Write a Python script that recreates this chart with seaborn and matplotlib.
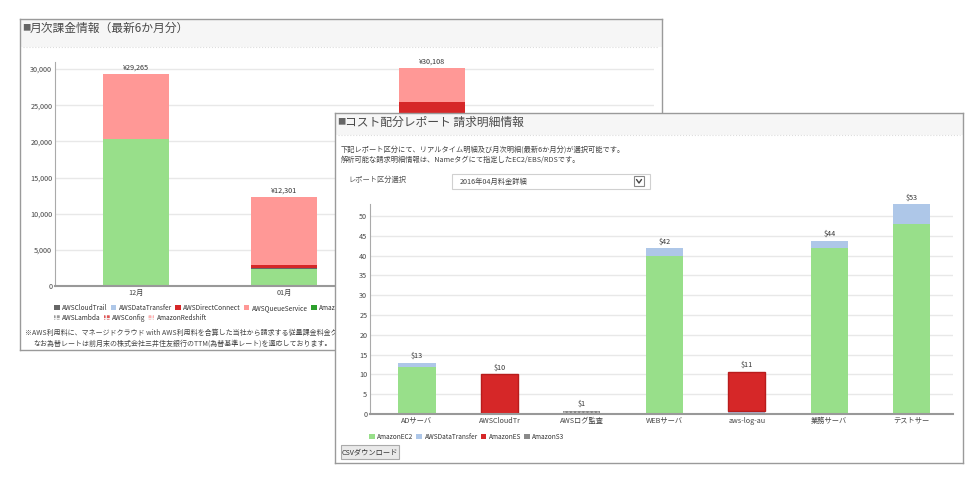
import numpy as np
import matplotlib
matplotlib.use("Agg")
import matplotlib.pyplot as plt
import seaborn as sns
from matplotlib.patches import Patch, Rectangle
from matplotlib.ticker import FuncFormatter

# 月次課金情報（左パネル）
months = ["12月", "01月", "02月"]
m_ec2 = [20300, 2400, 20500]
m_trail = [0, 100, 0]
m_direct = [0, 400, 4980]
m_queue = [8965, 9401, 4628]

# 左の凡例
leg1_names = ["AWSCloudTrail", "AWSDataTransfer", "AWSDirectConnect", "AWSQueueService",
              "AmazonCloudWatch", "AmazonEC2"]
leg1_colors = ["#666666", "#aec7e8", "#d62728", "#ff9896", "#2ca02c", "#98df8a"]
leg2_names = ["AWSLambda", "AWSConfig", "AmazonRedshift"]
leg2_colors = ["#9a9a9a", "#e05555", "#ffb0b0"]

# コスト配分レポート（右パネル）
servers = ["ADサーバ", "AWSCloudTr", "AWSログ監査", "WEBサーバ", "aws-log-au", "業務サーバ", "テストサー"]
ec2 = [11.8, 0, 0, 39.9, 0, 41.8, 48.0]
transfer = [1.2, 0, 0, 2.0, 0.8, 2.0, 5.0]
es = [0, 10.0, 0, 0, 9.9, 0, 0]
s3 = [0, 0, 0.8, 0, 0, 0, 0]

sns.set_style("white")
plt.rcParams["font.family"] = ["Noto Sans CJK JP", "DejaVu Sans"]

W, H = 980, 480
fig = plt.figure(figsize=(W / 100, H / 100), dpi=100)
fig.patch.set_facecolor("white")


def px_rect(x0, y0, x1, y1):
    return [x0 / W, 1 - y1 / H, (x1 - x0) / W, (y1 - y0) / H]


def panel(x0, y0, x1, y1, z, head, title):
    a = fig.add_axes(px_rect(x0, y0, x1, y1), zorder=z)
    a.set_xlim(x0, x1)
    a.set_ylim(y1, y0)
    a.set_xticks([])
    a.set_yticks([])
    a.set_facecolor("white")
    for s in a.spines.values():
        s.set_color("#9a9a9a")
        s.set_linewidth(1)
    a.add_patch(Rectangle((x0, y0), x1 - x0, head, color="#f6f6f6", lw=0))
    a.plot([x0 + 3, x1 - 3], [y0 + head, y0 + head], ls=":", color="#dddddd", lw=0.8)
    # タイトル（小さい灰色の四角＋文字）
    a.text(x0 + 2, y0 + 9, "■", fontsize=6, color="#666666", va="center")
    a.text(x0 + 10, y0 + 9, title, fontsize=8.5, color="#4a4a4a", va="center")
    return a


def stack(ax, cats, layers, width):
    base = np.zeros(len(cats))
    for vals, col, extra in layers:
        kw = {"linewidth": 0}
        kw.update(extra)
        sns.barplot(x=cats, y=vals, order=cats, color=col, saturation=1, width=width,
                    bottom=base, ax=ax, **kw)
        for p, v in zip(ax.containers[-1], vals):
            if v == 0:
                p.set_visible(False)
        base = base + np.array(vals)
    return base


lg_kw = dict(frameon=False, fontsize=4.7, handlelength=0.9, handleheight=0.9,
             handletextpad=0.35, columnspacing=0.45, borderpad=0, borderaxespad=0,
             loc="center left", bbox_transform=fig.transFigure, labelcolor="#333333")

# ---- 左パネル ----
pl = panel(20, 19, 662, 350, 0, 28, "月次課金情報（最新6か月分）")
pl.text(25, 333, "※AWS利用料に、マネージドクラウド with AWS利用料を合算した当社から請求する従量課金料金グラフとなります。",
        fontsize=5.0, color="#444444", va="center", clip_on=True)
pl.text(33, 344, "なお為替レートは前月末の株式会社三井住友銀行のTTM(為替基準レート)を適応しております。",
        fontsize=5.0, color="#444444", va="center", clip_on=True)

ax_l = fig.add_axes(px_rect(55, 62, 654, 286), zorder=1)
tot_l = stack(ax_l, months, [(m_ec2, "#98df8a", {}), (m_trail, "#666666", {}),
                             (m_direct, "#d62728", {}), (m_queue, "#ff9896", {})], 0.446)
for i, t in enumerate(tot_l):
    ax_l.annotate(f"¥{t:,.0f}", (i, t), xytext=(0, 2), textcoords="offset points",
                  ha="center", va="bottom", fontsize=5.2, color="#333333")
ax_l.set_xlim(-0.547, 3.5)
ax_l.set_ylim(0, 30970)
ax_l.set_yticks(range(0, 30001, 5000))
ax_l.yaxis.set_major_formatter(FuncFormatter(lambda v, p: f"{v:,.0f}"))
ax_l.grid(axis="y", color="#e8e8e8", lw=1)
ax_l.set_axisbelow(True)
ax_l.tick_params(labelsize=5.2, colors="#444444", length=0, pad=2)
for s in ["top", "right"]:
    ax_l.spines[s].set_visible(False)
ax_l.spines["left"].set_color("#aaaaaa")
ax_l.spines["bottom"].set_color("#999999")
ax_l.spines["bottom"].set_linewidth(1.5)
ax_l.set_xlabel("")
ax_l.set_ylabel("")

h1 = [Patch(facecolor=c, edgecolor="none") for c in leg1_colors]
h2 = [Patch(facecolor=c, edgecolor="#f4f4f4", hatch="++++", lw=0) for c in leg2_colors]
lg1 = ax_l.legend(h1, leg1_names, ncol=len(h1), bbox_to_anchor=(54 / W, 1 - 308 / H), **lg_kw)
ax_l.add_artist(lg1)
ax_l.legend(h2, leg2_names, ncol=len(h2), bbox_to_anchor=(54 / W, 1 - 318 / H), **lg_kw)

# ---- 右パネル ----
pr = panel(335, 113, 963, 463, 2, 22, "コスト配分レポート 請求明細情報")
pr.text(341, 150, "下記レポート区分にて、リアルタイム明細及び月次明細(最新6か月分)が選択可能です。",
        fontsize=5.2, color="#444444", va="center")
pr.text(341, 160, "解析可能な請求明細情報は、Nameタグにて指定したEC2/EBS/RDSです。",
        fontsize=5.2, color="#444444", va="center")
pr.text(348, 180, "レポート区分選択", fontsize=5.2, color="#555555", va="center")
pr.add_patch(Rectangle((452, 174), 198, 15, facecolor="white", edgecolor="#d0d0d0", lw=0.8))
pr.text(460, 181.5, "2016年04月料金詳細", fontsize=5.2, color="#444444", va="center")
pr.add_patch(Rectangle((634, 176.5), 10, 10, facecolor="white", edgecolor="#888888", lw=0.8))
pr.plot([636.5, 639, 641.5], [179.5, 183, 179.5], color="#444444", lw=1)
pr.add_patch(Rectangle((341, 445), 58, 14, facecolor="#e9e9e9", edgecolor="#aaaaaa", lw=0.8))
pr.text(370, 452, "CSVダウンロード", fontsize=5.2, color="#333333", va="center", ha="center")

ax_r = fig.add_axes(px_rect(370, 204, 953, 414), zorder=3)
tot_r = stack(ax_r, servers, [(ec2, "#98df8a", {}),
                              (transfer, "#aec7e8", {}),
                              (es, "#d62728", {"edgecolor": "#b81c1c", "linewidth": 1}),
                              (s3, "#8a8a8a", {"edgecolor": "#c8c8c8", "hatch": "...."})],
                0.45)
for i, t in enumerate(tot_r):
    ax_r.annotate(f"${t:.0f}", (i, t), xytext=(0, 2), textcoords="offset points",
                  ha="center", va="bottom", fontsize=5.2, color="#333333")
ax_r.set_xlim(-0.57, 6.5)
ax_r.set_ylim(0, 53.03)
ax_r.set_yticks(range(0, 51, 5))
ax_r.grid(axis="y", color="#e8e8e8", lw=1)
ax_r.set_axisbelow(True)
ax_r.tick_params(labelsize=5.2, colors="#444444", length=0, pad=2)
for s in ["top", "right"]:
    ax_r.spines[s].set_visible(False)
ax_r.spines["left"].set_color("#aaaaaa")
ax_r.spines["bottom"].set_color("#999999")
ax_r.spines["bottom"].set_linewidth(1.5)
ax_r.set_xlabel("")
ax_r.set_ylabel("")

hr = [Patch(facecolor=c, edgecolor="none") for c in ["#98df8a", "#aec7e8", "#d62728", "#8a8a8a"]]
ax_r.legend(hr, ["AmazonEC2", "AWSDataTransfer", "AmazonES", "AmazonS3"], ncol=4,
            bbox_to_anchor=(369 / W, 1 - 437 / H), **lg_kw)

fig.savefig("out.png", dpi=100)
